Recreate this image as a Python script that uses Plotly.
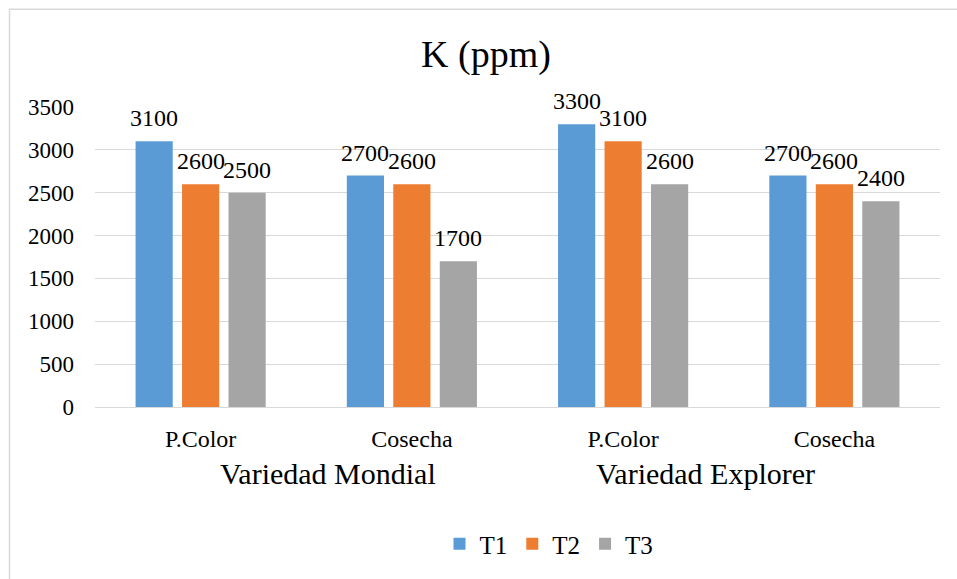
import plotly.graph_objects as go

categories = ["P.Color", "Cosecha", "P.Color", "Cosecha"]
groups = ["Variedad Mondial", "Variedad Explorer"]
series_names = ["T1", "T2", "T3"]
t1 = [3100, 2700, 3300, 2700]
t2 = [2600, 2600, 3100, 2600]
t3 = [2500, 1700, 2600, 2400]
colors = ["#5B9BD5", "#ED7D31", "#A5A5A5"]
yticks = [0, 500, 1000, 1500, 2000, 2500, 3000, 3500]

FONT = "Liberation Serif, Times New Roman, serif"
W, H = 957, 579
ML, MR, MT, MB = 95, 17, 107, 170
BARGAP = 0.34

xpos = list(range(len(categories)))
fig = go.Figure()
all_series = [t1, t2, t3]
for name, vals, col in zip(series_names, all_series, colors):
    fig.add_trace(go.Bar(
        x=xpos, y=vals, name=name, marker_color=col, marker_line_width=0,
        cliponaxis=False,
    ))

# value labels above each bar (offset = slot position within the group)
slot = (1 - BARGAP) / len(all_series)
for i, vals in enumerate(all_series):
    off = (i - (len(all_series) - 1) / 2) * slot
    for xp, v in zip(xpos, vals):
        fig.add_annotation(x=xp + off, y=v, text=str(v), showarrow=False,
                           xanchor="center", yanchor="bottom", yshift=8,
                           font=dict(family=FONT, size=24, color="#000000"))

pw = W - ML - MR
ph = H - MT - MB
def px_x(p):
    return (p - ML) / pw
def px_y(p):
    return (H - MB - p) / ph

fig.update_layout(
    width=W, height=H,
    margin=dict(l=ML, r=MR, t=MT, b=MB),
    paper_bgcolor="white", plot_bgcolor="white",
    barmode="group", bargap=BARGAP, bargroupgap=0.2,
    font=dict(family=FONT, color="#000000"),
    title=dict(text="K (ppm)", x=px_x(486), xref="paper", xanchor="center", y=1 - 54 / H, yanchor="middle",
               font=dict(family=FONT, size=38, color="#000000")),
    showlegend=True,
    legend=dict(orientation="h", x=px_x(549), xanchor="center", y=px_y(547), yanchor="middle",
                xref="paper", yref="paper",
                font=dict(family=FONT, size=25, color="#000000"),
                itemwidth=30, traceorder="normal", tracegroupgap=0),
    xaxis=dict(range=[-0.5, 3.5], tickvals=xpos, ticktext=categories,
               tickfont=dict(family=FONT, size=24, color="#000000"),
               showgrid=False, zeroline=False, showline=True, linecolor="#d9d9d9", linewidth=1,
               ticks="", ticklen=0, ticklabelstandoff=10, fixedrange=True),
    yaxis=dict(range=[0, 3500], tickvals=yticks, showgrid=True, gridcolor="#d9d9d9", gridwidth=1,
               zeroline=False, showline=False, ticks="", ticklabelstandoff=20,
               tickfont=dict(family=FONT, size=23, color="#000000"), fixedrange=True),
)

# group labels (second-level category axis)
group_px = [328, 705]
for g, gx in zip(groups, group_px):
    fig.add_annotation(text=g, x=px_x(gx), y=px_y(476), xref="paper", yref="paper",
                       showarrow=False, xanchor="center", yanchor="middle",
                       font=dict(family=FONT, size=30, color="#000000"))

# outer chart frame (partially cropped)
fig.add_shape(type="rect", xref="paper", yref="paper",
              x0=px_x(9.5), x1=px_x(990), y0=px_y(8.5), y1=px_y(620),
              line=dict(color="#d9d9d9", width=1.5), fillcolor="rgba(0,0,0,0)", layer="below")

fig.write_html("out.html")
